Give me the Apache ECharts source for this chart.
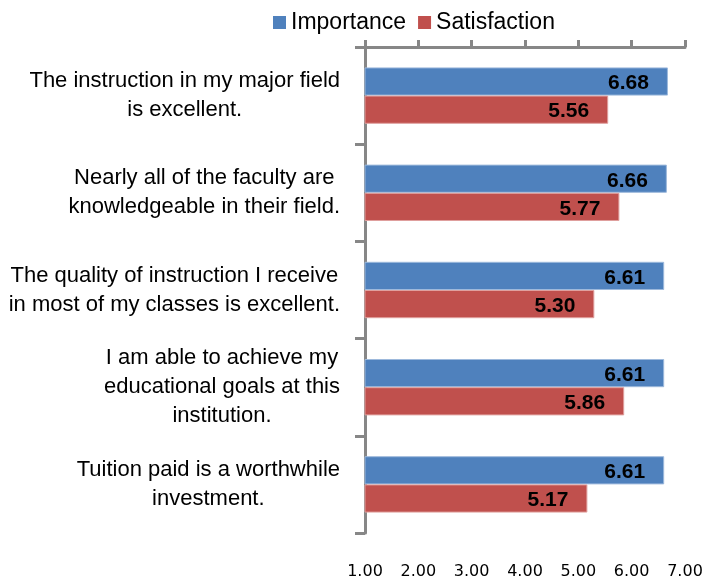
<!DOCTYPE html>
<html>
<head>
<meta charset="utf-8">
<script src="https://cdn.jsdelivr.net/npm/echarts@6/dist/echarts.min.js"></script>
<style>
  html, body { margin: 0; padding: 0; background: #fff; }
  #chart { width: 713px; height: 580px; }
</style>
</head>
<body>
<div id="chart"></div>
<script>
  // categories (top to bottom)
  var categories = [
    'The instruction in my major field\nis excellent.',
    'Nearly all of the faculty are\nknowledgeable in their field.',
    'The quality of instruction I receive\nin most of my classes is excellent.',
    'I am able to achieve my\neducational goals at this\ninstitution.',
    'Tuition paid is a worthwhile\ninvestment.'
  ]
  var importance = [6.68, 6.66, 6.61, 6.61, 6.61]
  var satisfaction = [5.56, 5.77, 5.30, 5.86, 5.17]

  var font = 'Liberation Sans'
  var gray = '#878787'

  var myChart = echarts.init(document.getElementById('chart'))
  var option = {
    animation: false,
    textStyle: { fontFamily: font },
    legend: {
      top: 6,
      left: 268,
      itemWidth: 13,
      itemHeight: 13,
      itemGap: 12,
      icon: 'rect',
      itemStyle: { borderWidth: 0 },
      textStyle: { fontSize: 23, color: '#000', fontFamily: font },
      data: ['Importance', 'Satisfaction']
    },
    grid: { left: 365, right: 28, top: 47, bottom: 47 },
    xAxis: [
      {
        // top axis: line and ticks only
        type: 'value',
        position: 'top',
        min: 1, max: 7, interval: 1,
        axisLine: { show: true, lineStyle: { color: gray, width: 3 } },
        axisTick: { show: true, length: 7, lineStyle: { color: gray, width: 3 } },
        axisLabel: { show: false },
        splitLine: { show: false }
      },
      {
        // bottom axis: labels only
        type: 'value',
        position: 'bottom',
        min: 1, max: 7, interval: 1,
        axisLine: { show: false },
        axisTick: { show: false },
        splitLine: { show: false },
        axisLabel: {
          margin: 31,
          fontSize: 16,
          fontFamily: 'DejaVu Sans',
          color: '#000',
          formatter: function (v) { return v.toFixed(2) }
        }
      }
    ],
    yAxis: {
      type: 'category',
      inverse: true,
      data: categories,
      axisLine: { show: true, lineStyle: { color: gray, width: 3 } },
      axisTick: { show: true, length: 10, lineStyle: { color: gray, width: 3 } },
      axisLabel: {
        margin: 25,
        color: '#000',
        fontSize: 22,
        lineHeight: 29,
        formatter: function (v) {
          return v.split('\n').map(function (s) { return '{c|' + s + '}' }).join('\n')
        },
        rich: {
          c: { align: 'center', fontSize: 22, lineHeight: 29, color: '#000', fontFamily: font }
        }
      }
    },
    series: [
      {
        name: 'Importance',
        type: 'bar',
        xAxisIndex: 0,
        data: importance,
        barGap: '0%',
        barCategoryGap: '42%',
        itemStyle: { color: '#4F81BD', borderColor: '#9DB9DC', borderWidth: 1 },
        label: {
          show: true,
          position: 'insideRight',
          distance: 19,
          offset: [0, 2],
          color: '#000',
          fontWeight: 'bold',
          fontSize: 21,
          formatter: function (p) { return p.value.toFixed(2) }
        }
      },
      {
        name: 'Satisfaction',
        type: 'bar',
        xAxisIndex: 0,
        data: satisfaction,
        itemStyle: { color: '#C0504D', borderColor: '#E0A09E', borderWidth: 1 },
        label: {
          show: true,
          position: 'insideRight',
          distance: 19,
          offset: [0, 2],
          color: '#000',
          fontWeight: 'bold',
          fontSize: 21,
          formatter: function (p) { return p.value.toFixed(2) }
        }
      }
    ]
  }
  myChart.setOption(option)
</script>
</body>
</html>
